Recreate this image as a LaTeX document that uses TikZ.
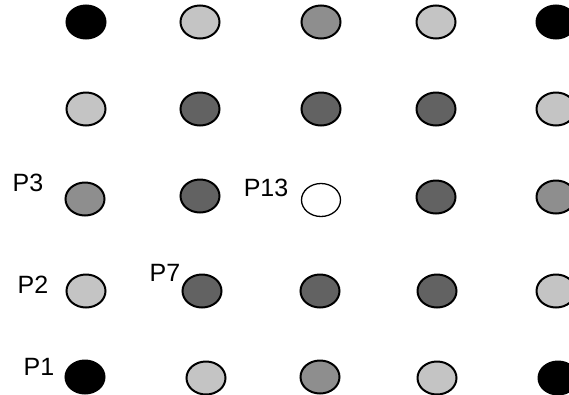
\documentclass[tikz,border=0pt]{standalone}
\usepackage{fontspec}
\setmainfont{Liberation Sans}
\usetikzlibrary{shapes.geometric}
\definecolor{lightdot}{HTML}{C4C4C4}
\definecolor{hatchdot}{HTML}{8E8E8E}
\definecolor{darkdot}{HTML}{626262}
\tikzset{
  dot/.style={ellipse, draw=black, line width=2pt, minimum width=39pt, minimum height=33pt, inner sep=0pt},
  blk/.style={dot, fill=black},
  lgt/.style={dot, fill=lightdot},
  hat/.style={dot, fill=hatchdot},
  drk/.style={dot, fill=darkdot},
  wht/.style={dot, fill=white, line width=1.3pt},
  lab/.style={font=\fontsize{25}{29}\selectfont, inner sep=0pt, anchor=center}
}
\begin{document}
\begin{tikzpicture}[x=1pt,y=-1pt]
\useasboundingbox (0,0) rectangle (569,394);
% row 1
\node[blk] (a11) at (86,22) {};
\node[lgt] (a12) at (200,22) {};
\node[hat] (a13) at (321,22) {};
\node[lgt] (a14) at (436,22) {};
\node[blk] (a15) at (556,22) {};
% row 2
\node[lgt] (a21) at (86,109) {};
\node[drk] (a22) at (200,109) {};
\node[drk] (a23) at (321,109) {};
\node[drk] (a24) at (436,109) {};
\node[lgt] (a25) at (556,109) {};
% row 3
\node[hat] (a31) at (85,199) {};
\node[drk] (a32) at (200,196) {};
\node[wht] (a33) at (321,200) {};
\node[drk] (a34) at (436,197) {};
\node[hat] (a35) at (556,197) {};
% row 4
\node[lgt] (a41) at (86,291) {};
\node[drk] (a42) at (202,291) {};
\node[drk] (a43) at (320,291) {};
\node[drk] (a44) at (437,291) {};
\node[lgt] (a45) at (556,291) {};
% row 5
\node[blk] (a51) at (85,377) {};
\node[lgt] (a52) at (206,378) {};
\node[hat] (a53) at (320,377) {};
\node[lgt] (a54) at (437,378) {};
\node[blk] (a55) at (558,378) {};
% labels
\node[lab] (p3) at (28,183) {P3};
\node[lab] (p2) at (33,285) {P2};
\node[lab] (p7) at (165,273) {P7};
\node[lab] (p13) at (266,188) {P13};
\node[lab] (p1) at (39,367) {P1};
\end{tikzpicture}
\end{document}
